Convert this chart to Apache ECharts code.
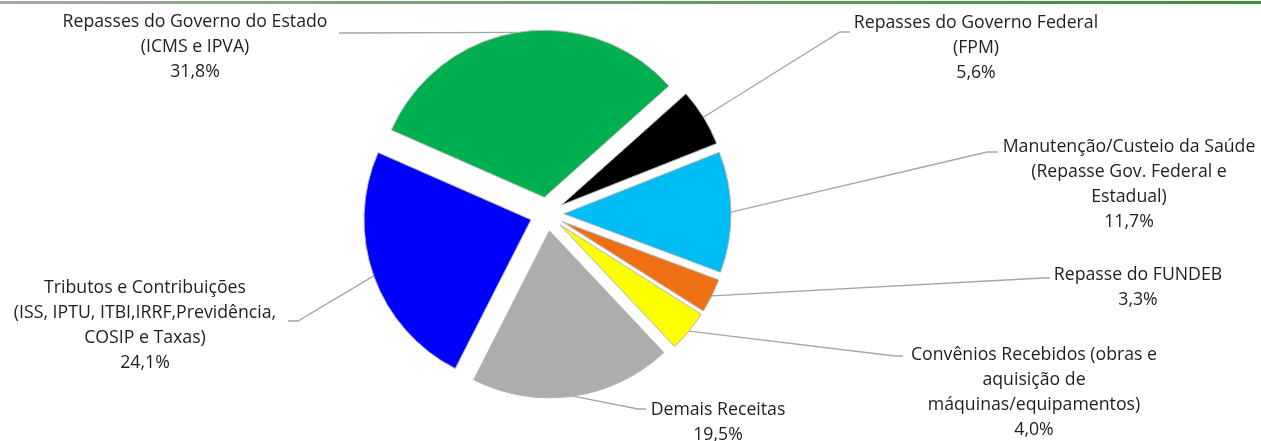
<!DOCTYPE html>
<html>
<head>
<meta charset="utf-8">
<script src="https://cdn.jsdelivr.net/npm/echarts@6/dist/echarts.min.js"></script>
<style>
  html, body { margin: 0; padding: 0; background: #fff; }
  #chart { width: 1261px; height: 441px; }
</style>
</head>
<body>
<div id="chart"></div>
<script>
// slices in drawing order (clockwise, starting just right of 12 o'clock)
const categories = [
  "Repasses do Governo Federal\n(FPM)",
  "Manutenção/Custeio da Saúde\n(Repasse Gov. Federal e\nEstadual)",
  "Repasse do FUNDEB",
  "Convênios Recebidos (obras e\naquisição de\nmáquinas/equipamentos)",
  "Demais Receitas",
  "Tributos e Contribuições\n(ISS, IPTU, ITBI,IRRF,Previdência,\nCOSIP e Taxas)",
  "Repasses do Governo do Estado\n(ICMS e IPVA)"
];
const shares = [5.6, 11.7, 3.3, 4.0, 19.5, 24.1, 31.8];
const sliceColors = ["#000000", "#00bcf5", "#ee7012", "#ffff00", "#adadad", "#0000ff", "#00b050"];

// label box: centre x, top y, where the leader meets the label (x, y), elbow x
const labelSpots = [
  [976, 10, 850, 32, 840],
  [1129, 134, 998, 152, 987],
  [1138, 262, 1050, 278, 1043],
  [1034, 342, 903, 356, 895],
  [718, 397, 646, 409, 638],
  [145, 275, 288, 321, 298],
  [195, 9, 339, 33, 348]
];

const pieCenter = [547, 214];
const pieRadius = 167;
const explode = 17;
const startAngle = 41.8;
const labelFont = '17.7px "Open Sans"';

const total = shares.reduce((a, b) => a + b, 0);

// point on the outer arc (exploded) at the middle of slice idx
function anchorOf(idx) {
  let before = 0;
  for (let i = 0; i < idx; i++) before += shares[i];
  const mid = (startAngle - (before + shares[idx] / 2) / total * 360) * Math.PI / 180;
  const d = pieRadius + explode;
  return [pieCenter[0] + d * Math.cos(mid), pieCenter[1] - d * Math.sin(mid)];
}

const pct = v => v.toFixed(1).replace(".", ",") + "%";

const leaders = labelSpots.map((s, i) => ({
  type: "polyline",
  silent: true,
  shape: { points: [anchorOf(i), [s[4], s[3]], [s[2], s[3]]] },
  style: { stroke: "#a6a6a6", lineWidth: 1.3, fill: null }
}));

const labels = labelSpots.map((s, i) => ({
  type: "text",
  silent: true,
  x: s[0],
  y: s[1],
  style: {
    text: categories[i] + "\n" + pct(shares[i]),
    font: labelFont,
    lineHeight: 25,
    fill: "#1e1e1e",
    align: "center",
    verticalAlign: "top"
  }
}));

const chart = echarts.init(document.getElementById("chart"), null, { renderer: "canvas" });

chart.setOption({
  animation: false,
  backgroundColor: "#ffffff",
  graphic: [
    {
      type: "rect",
      silent: true,
      shape: { x: 0, y: 1, width: 1261, height: 3 },
      style: {
        fill: new echarts.graphic.LinearGradient(0, 0, 1, 0, [
          { offset: 0, color: "#a9a9a9" },
          { offset: 0.3, color: "#7fa27b" },
          { offset: 1, color: "#3e8e3e" }
        ])
      }
    }
  ].concat(leaders, labels),
  series: [
    {
      type: "pie",
      center: pieCenter,
      radius: pieRadius,
      startAngle: startAngle,
      clockwise: true,
      selectedMode: "multiple",
      selectedOffset: explode,
      avoidLabelOverlap: false,
      itemStyle: { borderColor: "#b4b4b4", borderWidth: 1 },
      select: { itemStyle: { borderColor: "#b4b4b4", borderWidth: 1 } },
      emphasis: { disabled: true },
      label: { show: false },
      labelLine: { show: false },
      data: categories.map((name, i) => ({
        name: name,
        value: shares[i],
        selected: true,
        itemStyle: { color: sliceColors[i] }
      }))
    }
  ]
});
</script>
</body>
</html>
